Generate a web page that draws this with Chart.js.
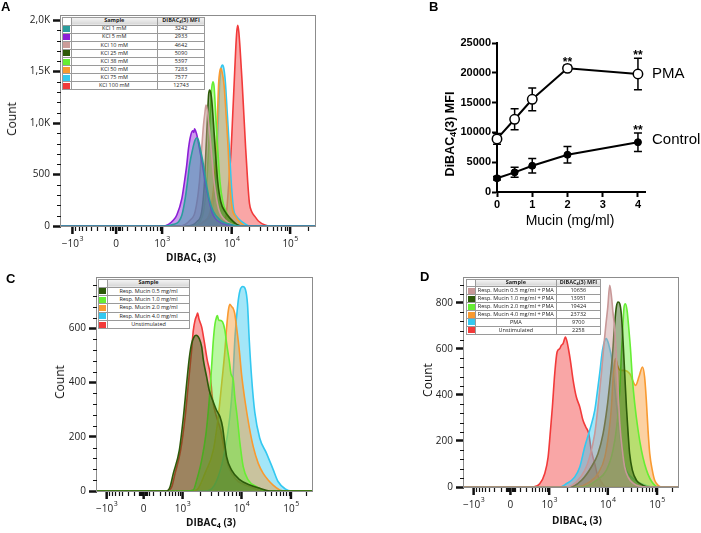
<!DOCTYPE html>
<html>
<head>
<meta charset="utf-8">
<script src="https://cdn.jsdelivr.net/npm/chart.js@4.4.0/dist/chart.umd.min.js"></script>
<style>
  body { margin: 0; background: #fff; width: 701px; height: 533px; position: relative; overflow: hidden; font-family: "Open Sans", sans-serif; }
  canvas { position: absolute; }
  .letter { position: absolute; font: bold 13px "Liberation Sans", Arial, sans-serif; color: #000; line-height: 1; }
  .ttl { position: absolute; white-space: nowrap; line-height: 1; transform: translate(-50%, -50%); color: #111; }
  .rot { transform: translate(-50%, -50%) rotate(-90deg); }
  .ttl sub { font-size: 70%; vertical-align: -2px; }
  table.leg { position: absolute; border-collapse: collapse; table-layout: fixed; font-family: "Open Sans", sans-serif; font-size: 5.5px; color: #222; background: #fff; }
  table.leg td, table.leg th { border: 1px solid #9a9a9a; padding: 0; text-align: center; line-height: 1; white-space: nowrap; overflow: hidden; }
  table.leg th { background: linear-gradient(#f6f6f6, #d6d6d6); font-weight: bold; }
  table.leg th.blank { background: #fff; }
  table.leg sub { font-size: 70%; vertical-align: -1px; }
  .sw { display: block; margin: 0 auto; width: 7px; height: 6px; }
</style>
</head>
<body>
<canvas id="cA" width="330" height="268" style="left:0;top:0"></canvas>
<canvas id="cB" width="301" height="268" style="left:400px;top:0"></canvas>
<canvas id="cC" width="330" height="265" style="left:0;top:268px"></canvas>
<canvas id="cD" width="331" height="265" style="left:370px;top:268px"></canvas>

<div class="letter" style="left:1px;top:0">A</div>
<div class="letter" style="left:429px;top:0">B</div>
<div class="letter" style="left:6px;top:272px">C</div>
<div class="letter" style="left:420px;top:270px">D</div>

<div class="ttl" style="left:191px;top:258px;font-weight:bold;font-size:10px">DIBAC<sub>4</sub> (3)</div>
<div class="ttl" style="left:211px;top:523px;font-weight:bold;font-size:10px">DIBAC<sub>4</sub> (3)</div>
<div class="ttl" style="left:577px;top:521px;font-weight:bold;font-size:10px">DIBAC<sub>4</sub> (3)</div>
<div class="ttl rot" style="left:12px;top:119px;font-size:12px">Count</div>
<div class="ttl rot" style="left:60px;top:382px;font-size:12px">Count</div>
<div class="ttl rot" style="left:428px;top:380px;font-size:12px">Count</div>
<div class="ttl rot" style="left:450px;top:134px;font:bold 12.5px 'Liberation Sans',Arial,sans-serif;color:#000">DiBAC<sub>4</sub>(3) MFI</div>
<div class="ttl" style="left:570px;top:220px;font:14px 'Liberation Sans',Arial,sans-serif;color:#000">Mucin (mg/ml)</div>

<script>
// ---- shared logicle-like x axis (display channel 0..100) ----
const X_MAJOR_POS = [4.5, 21.7, 39.8, 67.2, 90.2];
const X_MAJOR_LABELS = [['\u221210', '3'], ['0', ''], ['10', '3'], ['10', '4'], ['10', '5']];
const X_MINOR_POS = [5.7, 7.0, 8.3, 10.0, 11.8, 14.2, 17.4, 19.4, 20.0, 20.6, 21.1, 22.3, 22.8, 23.4, 24.0,
  26.0, 29.2, 31.6, 33.4, 35.1, 36.4, 37.7, 38.8, 48.0, 52.9, 56.3, 59.0, 61.1, 63.0, 64.5, 65.9,
  74.1, 78.2, 81.0, 83.3, 85.1, 86.6, 88.0, 89.1, 97.1];

// ---- panel A: KCl ----
const A_SAMPLES = ['KCl 1 mM', 'KCl 5 mM', 'KCl 10 mM', 'KCl 25 mM', 'KCl 38 mM', 'KCl 50 mM', 'KCl 75 mM', 'KCl 100 mM'];
const A_MFI = ['3242', '2933', '4642', '5090', '5397', '7283', '7577', '12743'];
const A_COLORS = ['#2a9d9d', '#8c1fd6', '#cc9c9a', '#2c5a06', '#66ee33', '#f99a30', '#33c8f0', '#f23a3a'];
const A_Y_TICKS = [0, 500, 1000, 1500, 2000];
const A_Y_LABELS = ['0', '500', '1,0K', '1,5K', '2,0K'];
const A_KCL_1 = [[0,0],[41.0,0],[44.3,16],[46.3,42],[47.6,107],[48.9,269],[49.8,430],[50.6,592],[51.9,754],[52.8,835],[53.5,858],[54.1,835],[54.8,754],[56.1,592],[57.1,430],[58.3,269],[60.0,139],[62.6,58],[66.6,16],[70.5,0],[100,0]];
const A_KCL_5 = [[0,0],[39.8,0],[42.3,16],[44.3,58],[45.6,107],[47.6,269],[48.6,430],[49.5,592],[50.2,754],[51.1,883],[51.9,925],[52.3,910],[52.6,945],[53.1,916],[53.5,883],[54.5,754],[55.7,592],[56.7,430],[58.1,269],[59.4,139],[60.7,74],[63.3,26],[66.6,3],[69.2,0],[100,0]];
const A_KCL_10 = [[0,0],[46.9,0],[50.9,58],[52.8,139],[54.5,430],[55.4,754],[56.1,980],[56.7,1110],[57.1,1175],[57.7,1110],[58.1,1013],[59.1,754],[60.3,430],[62.0,172],[64.6,58],[67.9,10],[70.5,0],[100,0]];
const A_KCL_25 = [[0,0],[49.5,0],[53.5,42],[55.4,139],[56.5,430],[57.1,754],[57.7,1078],[58.1,1272],[58.5,1320],[59.0,1288],[59.4,1207],[59.8,1078],[60.7,754],[61.7,430],[62.9,236],[64.6,139],[66.6,74],[69.2,16],[71.8,0],[100,0]];
const A_KCL_38 = [[0,0],[50.9,0],[54.8,49],[56.1,139],[57.4,430],[58.1,754],[58.7,1078],[59.2,1304],[59.8,1401],[60.2,1369],[60.5,1272],[60.9,1078],[61.7,754],[62.6,430],[63.7,236],[65.0,139],[67.2,49],[70.5,0],[100,0]];
const A_KCL_50 = [[0,0],[52.2,0],[56.1,42],[58.7,139],[60.3,430],[61.1,754],[61.6,1078],[62.1,1401],[62.5,1498],[62.9,1531],[63.4,1498],[64.2,1369],[65.0,1078],[65.8,754],[66.4,430],[67.4,172],[68.7,91],[70.5,36],[73.1,0],[100,0]];
const A_KCL_75 = [[0,0],[52.2,0],[56.7,49],[59.4,139],[60.8,430],[61.5,754],[62.0,1078],[62.5,1401],[63.0,1531],[63.6,1563],[64.1,1531],[64.7,1401],[65.5,1078],[66.3,754],[67.0,430],[67.9,172],[69.2,91],[71.2,42],[74.4,0],[100,0]];
const A_KCL_100 = [[0,0],[62.6,0],[65.0,107],[66.1,430],[67.0,754],[67.6,1078],[68.2,1401],[68.8,1725],[69.2,1887],[69.6,1951],[70.0,1887],[70.5,1725],[71.3,1401],[72.0,1078],[72.7,754],[73.5,430],[74.2,220],[75.1,139],[76.4,91],[77.7,49],[80.3,10],[82.3,0],[100,0]];

// ---- panel B: MFI vs mucin ----
const B_X = [0, 0.5, 1, 2, 4];
const B_PMA = [8900, 12200, 15550, 20750, 19800];
const B_PMA_ERR = [900, 1760, 1900, 500, 2630];
const B_CTRL = [2300, 3300, 4400, 6250, 8350];
const B_CTRL_ERR = [300, 840, 1200, 1400, 1550];
const B_X_TICKS = [0, 1, 2, 3, 4];
const B_Y_TICKS = [0, 5000, 10000, 15000, 20000, 25000];
const B_STARS = [[0, 3], [0, 4], [1, 4]]; // [dataset, point]

// ---- panel C: mucin alone ----
const C_SAMPLES = ['Resp. Mucin 0.5 mg/ml', 'Resp. Mucin 1.0 mg/ml', 'Resp. Mucin 2.0 mg/ml', 'Resp. Mucin 4.0 mg/ml', 'Unstimulated'];
const C_COLORS = ['#2d5a0a', '#66ee33', '#f99a30', '#33c8f0', '#f23a3a'];
const C_Y_TICKS = [0, 200, 400, 600];
const C_Y_LABELS = ['0', '200', '400', '600'];
const C_MUC_05 = [[0,0],[32.4,0],[34.0,16],[35.5,65],[38.3,151],[40.2,274],[41.7,397],[43.0,495],[44.0,544],[45.1,568],[46.1,575],[47.6,562],[48.7,532],[49.5,482],[51.0,421],[52.2,372],[53.8,335],[55.6,298],[57.2,274],[58.4,237],[59.2,188],[60.3,126],[62.6,77],[66.5,41],[71.1,22],[75.7,10],[80.4,0],[100,0]];
const C_MUC_10 = [[0,0],[41.7,0],[44.8,4],[46.4,41],[48.7,114],[50.7,212],[52.2,335],[53.3,458],[54.1,556],[54.9,618],[55.6,642],[56.0,648],[56.6,630],[57.2,630],[58.4,624],[59.5,593],[60.3,544],[61.5,482],[62.3,433],[63.4,409],[64.1,347],[65.2,274],[66.5,176],[68.0,90],[70.3,41],[74.2,16],[78.8,0],[100,0]];
const C_MUC_20 = [[0,0],[43.3,0],[46.4,4],[50.2,65],[54.1,151],[56.4,274],[58.0,397],[59.5,519],[60.3,605],[61.1,667],[61.8,689],[62.6,681],[63.4,673],[64.1,654],[64.9,605],[66.2,519],[67.2,433],[68.8,335],[70.8,237],[72.7,163],[75.0,102],[77.3,65],[79.6,41],[81.9,22],[85.0,4],[87.3,0],[100,0]];
const C_MUC_40 = [[0,0],[49.5,0],[52.6,4],[56.4,53],[59.5,151],[61.8,274],[63.1,397],[64.2,570],[65.5,690],[66.5,740],[67.8,755],[69.0,745],[70.0,690],[70.8,560],[71.9,420],[73.4,290],[75.7,195],[78.8,140],[81.9,80],[84.2,35],[87.5,8],[90.5,0],[100,0]];
const C_UNSTIM = [[0,0],[32.4,0],[34.8,16],[36.3,65],[38.9,151],[41.0,274],[42.5,397],[44.0,519],[44.8,593],[45.6,630],[46.4,648],[46.8,657],[47.4,636],[47.9,624],[48.7,605],[49.8,556],[51.3,482],[52.6,433],[53.8,335],[55.6,274],[57.5,225],[59.0,163],[61.1,90],[64.9,41],[71.1,16],[77.3,0],[100,0]];

// ---- panel D: mucin + PMA ----
const D_SAMPLES = ['Resp. Mucin 0.5 mg/ml + PMA', 'Resp. Mucin 1.0 mg/ml + PMA', 'Resp. Mucin 2.0 mg/ml + PMA', 'Resp. Mucin 4.0 mg/ml + PMA', 'PMA', 'Unstimulated'];
const D_MFI = ['10656', '13951', '19424', '23732', '9700', '2258'];
const D_COLORS = ['#c89898', '#2d5a0a', '#66ee33', '#f99a30', '#33c8f0', '#f23a3a'];
const D_Y_TICKS = [0, 200, 400, 600, 800];
const D_Y_LABELS = ['0', '200', '400', '600', '800'];
const D_MUC_05 = [[0,0],[47.8,0],[52.5,22],[56.4,72],[58.7,130],[61.1,232],[62.6,348],[64.2,493],[65.3,609],[66.2,696],[67.2,783],[68.1,877],[69.0,820],[69.6,760],[70.4,690],[71.2,565],[72.0,420],[72.8,275],[74.0,159],[75.1,87],[76.7,43],[79.0,17],[82.1,3],[85.2,0],[100,0]];
const D_MUC_10 = [[0,0],[49.4,0],[54.9,29],[59.5,87],[62.6,145],[65.0,232],[66.9,348],[68.1,449],[69.3,565],[70.4,710],[71.2,783],[72.0,804],[72.8,797],[73.5,753],[74.3,638],[75.1,493],[75.9,348],[76.7,232],[77.4,145],[78.7,72],[80.6,29],[83.7,7],[86.8,0],[100,0]];
const D_MUC_20 = [[0,0],[55.6,0],[61.9,29],[66.5,72],[69.6,159],[71.5,275],[72.8,420],[73.5,565],[74.3,710],[74.8,783],[75.4,797],[76.2,768],[77.0,690],[77.8,600],[78.7,470],[79.8,360],[81.3,250],[82.9,160],[84.4,100],[86.0,55],[87.6,25],[89.5,5],[91.0,0],[100,0]];
const D_MUC_40 = [[0,0],[52.5,0],[58.7,22],[62.6,58],[65.8,130],[67.8,246],[68.9,348],[69.6,464],[70.3,536],[70.9,558],[71.7,529],[73.1,507],[75.1,507],[77.4,493],[80.2,442],[81.8,480],[83.4,522],[84.4,478],[85.2,377],[86.0,246],[86.8,145],[88.0,72],[89.1,29],[90.7,7],[92.2,0],[100,0]];
const D_PMA = [[0,0],[44.7,0],[47.8,14],[51.7,43],[54.1,87],[56.4,174],[58.7,246],[61.1,333],[62.2,406],[63.4,493],[64.7,594],[65.8,638],[66.5,645],[67.3,630],[68.1,601],[68.9,565],[70.0,478],[70.9,391],[72.0,290],[73.1,203],[74.3,130],[75.9,72],[78.2,43],[81.3,22],[85.2,7],[88.3,0],[100,0]];
const D_UNSTIM = [[0,0],[32.3,0],[35.4,14],[37.7,58],[39.3,130],[40.4,246],[41.3,348],[42.4,493],[43.5,587],[44.7,601],[45.5,616],[46.3,623],[47.4,652],[48.2,630],[48.8,601],[49.7,551],[51.0,464],[52.5,391],[54.1,348],[55.6,290],[56.9,261],[58.3,232],[59.5,159],[61.1,101],[62.2,58],[64.2,22],[66.5,0],[100,0]];

function hexA(hex, a) {
    const n = parseInt(hex.slice(1), 16);
    return `rgba(${n >> 16}, ${(n >> 8) & 255}, ${n & 255}, ${a})`;
}

// frame + minor ticks + logicle tick labels for the flow histograms
const flowAxes = {
    id: 'flowAxes',
    beforeDatasetsDraw(chart, args, o) {
        const ctx = chart.ctx, a = chart.chartArea;
        ctx.save();
        ctx.strokeStyle = '#8c8c8c';
        ctx.lineWidth = 1;
        ctx.strokeRect(a.left - 0.5, a.top + 0.5, a.right - a.left + 1, a.bottom - a.top);
        ctx.restore();
    },
    afterDraw(chart, args, o) {
        const ctx = chart.ctx, a = chart.chartArea;
        const xs = chart.scales.x, ys = chart.scales.y;
        ctx.save();
        ctx.strokeStyle = '#111';
        // x ticks
        ctx.lineWidth = 1.2;
        X_MINOR_POS.forEach(v => {
            const px = Math.round(xs.getPixelForValue(v)) + 0.5;
            ctx.beginPath(); ctx.moveTo(px, a.bottom + 1); ctx.lineTo(px, a.bottom + 5); ctx.stroke();
        });
        ctx.lineWidth = 2.5;
        X_MAJOR_POS.forEach(v => {
            const px = xs.getPixelForValue(v);
            ctx.beginPath(); ctx.moveTo(px, a.bottom + 1); ctx.lineTo(px, a.bottom + 8); ctx.stroke();
        });
        // y minor ticks
        ctx.lineWidth = 1;
        for (let v = o.yMinor; v < ys.max; v += o.yMinor) {
            if (o.yTicks.includes(v)) continue;
            const py = Math.round(ys.getPixelForValue(v)) + 0.5;
            ctx.beginPath(); ctx.moveTo(a.left - 4, py); ctx.lineTo(a.left, py); ctx.stroke();
        }
        // x labels with superscript exponents
        ctx.fillStyle = '#222';
        ctx.textBaseline = 'middle';
        const ly = a.bottom + 18;
        X_MAJOR_POS.forEach((v, i) => {
            const [base, exp] = X_MAJOR_LABELS[i];
            ctx.font = '10px "Open Sans"';
            const wb = ctx.measureText(base).width;
            ctx.font = '7px "Open Sans"';
            const we = exp ? ctx.measureText(exp).width : 0;
            const x0 = xs.getPixelForValue(v) - (wb + we) / 2;
            ctx.font = '10px "Open Sans"';
            ctx.textAlign = 'left';
            ctx.fillText(base, x0, ly);
            if (exp) {
                ctx.font = '7px "Open Sans"';
                ctx.fillText(exp, x0 + wb + 0.5, ly - 5);
            }
        });
        ctx.restore();
    }
};

function histChart(id, cfg) {
    const datasets = cfg.series.map((pts, i) => ({
        data: pts.map(p => ({ x: p[0], y: p[1] })),
        borderColor: cfg.colors[i],
        backgroundColor: hexA(cfg.colors[i], 0.45),
        borderWidth: 1.6,
        pointRadius: 0,
        fill: 'origin',
        cubicInterpolationMode: 'monotone'
    }));
    return new Chart(document.getElementById(id), {
        type: 'line',
        data: { datasets },
        options: {
            responsive: false,
            animation: false,
            devicePixelRatio: 1,
            layout: { padding: cfg.pad },
            plugins: {
                legend: { display: false },
                tooltip: { enabled: false },
                flowAxes: { yMinor: cfg.yMinor, yTicks: cfg.yTicks }
            },
            scales: {
                x: {
                    type: 'linear', min: 0, max: 100,
                    ticks: { display: false },
                    grid: { display: false },
                    border: { display: false },
                    afterFit: s => { s.height = cfg.xH; }
                },
                y: {
                    type: 'linear', min: 0, max: cfg.yMax,
                    afterBuildTicks: s => { s.ticks = cfg.yTicks.map(v => ({ value: v })); },
                    ticks: { callback: (v, i) => cfg.yLabels[i], font: { family: 'Open Sans', size: 10 }, color: '#222', padding: 3, autoSkip: false },
                    grid: { drawOnChartArea: false, tickLength: 8, tickWidth: 2.5, tickColor: '#111' },
                    border: { display: false },
                    afterFit: s => { s.width = cfg.yW; }
                }
            }
        },
        plugins: [flowAxes]
    });
}

function legendTable(left, top, widths, rowH, samples, mfi, colors) {
    const t = document.createElement('table');
    t.className = 'leg';
    t.style.left = left + 'px';
    t.style.top = top + 'px';
    t.style.width = widths.reduce((s, w) => s + w, 0) + 'px';
    let html = '<colgroup>' + widths.map(w => `<col style="width:${w}px">`).join('') + '</colgroup>';
    html += `<tr style="height:${rowH}px"><th class="blank"></th><th>Sample</th>` + (mfi ? '<th>DIBAC<sub>4</sub>(3) MFI</th>' : '') + '</tr>';
    samples.forEach((s, i) => {
        html += `<tr style="height:${rowH}px"><td><span class="sw" style="background:${colors[i]}"></span></td><td>${s}</td>` + (mfi ? `<td>${mfi[i]}</td>` : '') + '</tr>';
    });
    t.innerHTML = html;
    document.body.appendChild(t);
}

histChart('cA', {
    series: [A_KCL_1, A_KCL_5, A_KCL_10, A_KCL_25, A_KCL_38, A_KCL_50, A_KCL_75, A_KCL_100],
    colors: A_COLORS, yMax: 2050, yTicks: A_Y_TICKS, yLabels: A_Y_LABELS, yMinor: 100,
    pad: { left: 0, top: 15, right: 15, bottom: 0 }, yW: 61, xH: 42
});
histChart('cC', {
    series: [C_MUC_05, C_MUC_10, C_MUC_20, C_MUC_40, C_UNSTIM],
    colors: C_COLORS, yMax: 790, yTicks: C_Y_TICKS, yLabels: C_Y_LABELS, yMinor: 40,
    pad: { left: 0, top: 8, right: 18, bottom: 0 }, yW: 97, xH: 42
});
histChart('cD', {
    series: [D_MUC_05, D_MUC_10, D_MUC_20, D_MUC_40, D_PMA, D_UNSTIM],
    colors: D_COLORS, yMax: 913, yTicks: D_Y_TICKS, yLabels: D_Y_LABELS, yMinor: 40,
    pad: { left: 0, top: 9, right: 23, bottom: 0 }, yW: 94, xH: 46
});

legendTable(61.5, 16.5, [9, 86.5, 47], 8.1, A_SAMPLES, A_MFI, A_COLORS);
legendTable(97.5, 278.5, [9.5, 82], 8.3, C_SAMPLES, null, C_COLORS);
legendTable(466, 278.5, [9, 80.7, 44.3], 7.9, D_SAMPLES, D_MFI, D_COLORS);

// ---- panel B ----
const errorBars = {
    id: 'errorBars',
    beforeDatasetsDraw(chart) {
        const ctx = chart.ctx, ys = chart.scales.y;
        ctx.save();
        ctx.strokeStyle = '#000';
        ctx.lineWidth = 1.5;
        chart.data.datasets.forEach((ds, i) => {
            chart.getDatasetMeta(i).data.forEach((pt, j) => {
                const v = ds.data[j].y, e = ds.errors[j];
                const t = ys.getPixelForValue(v + e), b = ys.getPixelForValue(v - e);
                ctx.beginPath();
                ctx.moveTo(pt.x, t); ctx.lineTo(pt.x, b);
                ctx.moveTo(pt.x - 4, t); ctx.lineTo(pt.x + 4, t);
                ctx.moveTo(pt.x - 4, b); ctx.lineTo(pt.x + 4, b);
                ctx.stroke();
            });
        });
        ctx.restore();
    },
    afterDatasetsDraw(chart) {
        const ctx = chart.ctx, ys = chart.scales.y;
        ctx.save();
        ctx.fillStyle = '#000';
        ctx.font = 'bold 12px "Liberation Sans", Arial';
        ctx.textAlign = 'center';
        ctx.textBaseline = 'alphabetic';
        B_STARS.forEach(([d, j]) => {
            const ds = chart.data.datasets[d];
            const pt = chart.getDatasetMeta(d).data[j];
            const top = ys.getPixelForValue(ds.data[j].y + ds.errors[j]);
            ctx.fillText('**', pt.x, top + 1);
        });
        // series names at the right end of each line
        ctx.font = '15px "Liberation Sans", Arial';
        ctx.textAlign = 'left';
        ctx.textBaseline = 'middle';
        chart.data.datasets.forEach((ds, i) => {
            const meta = chart.getDatasetMeta(i);
            const last = meta.data[meta.data.length - 1];
            ctx.fillText(ds.label, last.x + 14, last.y + (i === 0 ? 0 : -2));
        });
        ctx.restore();
    }
};

const tickFontB = { family: 'Liberation Sans', size: 11, weight: 'bold' };
new Chart(document.getElementById('cB'), {
    type: 'line',
    data: {
        datasets: [{
            label: 'PMA',
            data: B_X.map((x, i) => ({ x, y: B_PMA[i] })),
            errors: B_PMA_ERR,
            borderColor: '#000', borderWidth: 2,
            pointRadius: 4.7, pointBackgroundColor: '#fff', pointBorderColor: '#000', pointBorderWidth: 1.5,
            clip: false
        }, {
            label: 'Control',
            data: B_X.map((x, i) => ({ x, y: B_CTRL[i] })),
            errors: B_CTRL_ERR,
            borderColor: '#000', borderWidth: 2,
            pointRadius: 3.5, pointBackgroundColor: '#000', pointBorderColor: '#000', pointBorderWidth: 1,
            clip: false
        }]
    },
    options: {
        responsive: false,
        animation: false,
        devicePixelRatio: 1,
        layout: { padding: { left: 0, top: 43, right: 56, bottom: 0 } },
        plugins: { legend: { display: false }, tooltip: { enabled: false } },
        scales: {
            x: {
                type: 'linear', min: 0, max: 4.2,
                afterBuildTicks: s => { s.ticks = B_X_TICKS.map(v => ({ value: v })); },
                ticks: { callback: v => String(v), font: tickFontB, color: '#000', padding: 1, maxRotation: 0 },
                grid: { drawOnChartArea: false, tickLength: 5, tickWidth: 2, tickColor: '#000' },
                border: { width: 2, color: '#000' },
                afterFit: s => { s.height = 76; }
            },
            y: {
                type: 'linear', min: 0, max: 25000,
                afterBuildTicks: s => { s.ticks = B_Y_TICKS.map(v => ({ value: v })); },
                ticks: { callback: v => String(v), font: tickFontB, color: '#000', padding: 1 },
                grid: { drawOnChartArea: false, tickLength: 5, tickWidth: 2, tickColor: '#000' },
                border: { width: 2, color: '#000' },
                afterFit: s => { s.width = 97; }
            }
        }
    },
    plugins: [errorBars]
});
</script>
</body>
</html>
